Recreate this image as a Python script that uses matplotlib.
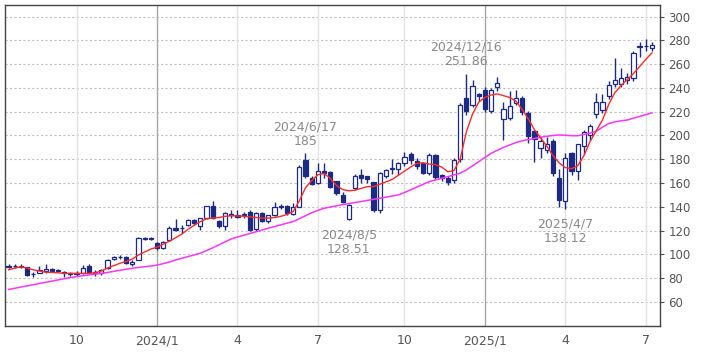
import matplotlib.pyplot as plt
import pandas as pd

# weekly candles, every Monday
weeks = pd.date_range("2023-07-17", periods=105, freq="W-MON")

opens = [89.7, 89.8, 90.5, 89.0, 83.5, 84.5, 86.0, 87.5, 87.0, 85.5,
         84.0, 83.5, 84.5, 90.0, 85.0, 84.0, 88.5, 96.0, 97.8, 97.5,
         91.5, 95.5, 113.3, 113.3, 109.5, 105.5, 112.0, 122.5, 121.8, 124.8,
         129.0, 123.7, 130.5, 141.0, 127.7, 123.5, 133.0, 133.5, 133.0, 136.0,
         121.0, 135.0, 128.0, 133.0, 139.8, 140.8, 134.0, 140.2, 179.5, 164.0,
         160.0, 169.8, 169.7, 161.3, 150.0, 130.0, 156.0, 166.5, 165.5, 160.5,
         137.5, 165.5, 172.0, 172.0, 176.5, 184.0, 178.5, 176.5, 168.3, 183.5,
         166.5, 164.5, 162.5, 180.0, 231.5, 226.0, 234.5, 238.0, 220.5, 241.0,
         213.5, 215.0, 227.5, 231.5, 219.0, 203.5, 189.5, 187.5, 195.0, 164.0,
         144.5, 185.0, 170.0, 191.0, 200.5, 218.0, 221.5, 233.0, 243.0, 243.0,
         247.0, 248.5, 274.5, 275.0, 273.8]
highs = [91.5, 92.0, 92.0, 89.5, 85.0, 90.0, 91.5, 88.5, 88.0, 86.0,
         85.0, 86.0, 91.0, 91.5, 86.5, 88.0, 96.0, 99.0, 99.5, 98.5,
         95.0, 115.0, 115.0, 114.5, 110.0, 111.0, 124.0, 130.0, 125.0, 130.0,
         130.0, 131.0, 141.0, 144.5, 128.5, 135.5, 137.5, 137.5, 136.0, 137.0,
         135.5, 136.0, 133.5, 144.4, 142.0, 141.5, 143.0, 175.0, 185.0, 165.5,
         176.7, 176.7, 170.5, 162.0, 152.8, 142.5, 168.0, 172.0, 166.0, 161.0,
         169.5, 172.0, 180.0, 178.0, 186.5, 186.0, 181.0, 178.0, 185.0, 184.5,
         168.0, 166.0, 181.0, 227.5, 251.86, 247.0, 236.0, 241.0, 240.0, 249.0,
         228.0, 237.0, 238.5, 233.0, 221.0, 205.0, 199.0, 199.0, 197.0, 172.0,
         185.0, 186.0, 193.0, 205.0, 210.0, 235.5, 235.0, 246.0, 265.0, 257.0,
         252.5, 271.0, 279.0, 281.0, 278.5]
lows = [88.5, 88.5, 88.5, 82.0, 81.0, 84.0, 84.5, 85.0, 85.0, 81.0,
        81.5, 82.0, 83.5, 84.0, 82.0, 83.0, 88.0, 95.0, 96.5, 91.5,
        90.5, 95.0, 112.0, 112.5, 104.0, 104.5, 111.0, 120.0, 118.0, 123.5,
        125.0, 120.6, 129.5, 130.0, 122.5, 120.6, 131.0, 130.5, 131.0, 120.0,
        119.5, 127.0, 126.0, 132.0, 138.0, 133.5, 133.0, 139.5, 164.0, 158.0,
        159.0, 164.0, 155.6, 150.0, 143.0, 128.51, 154.0, 160.0, 160.0, 135.5,
        135.0, 164.0, 168.0, 167.0, 174.0, 176.0, 172.0, 167.5, 167.0, 163.0,
        162.0, 158.5, 160.0, 178.0, 217.0, 224.0, 229.0, 220.0, 219.0, 237.0,
        196.0, 213.0, 226.0, 217.0, 193.5, 178.0, 181.0, 185.0, 165.5, 139.5,
        138.12, 167.0, 162.7, 184.0, 196.0, 215.0, 219.0, 231.0, 241.0, 240.5,
        243.0, 246.0, 266.0, 271.0, 271.0]
closes = [90.2, 90.3, 89.5, 83.0, 83.2, 86.5, 87.5, 86.0, 86.0, 84.0,
          83.5, 84.5, 88.5, 85.5, 84.0, 87.0, 95.5, 98.0, 98.2, 92.5,
          94.0, 113.5, 113.7, 113.7, 105.5, 110.5, 122.0, 120.7, 122.2, 129.0,
          126.3, 130.5, 140.5, 131.0, 123.5, 134.7, 133.6, 131.5, 133.6, 120.6,
          134.7, 128.0, 133.0, 140.0, 140.4, 134.6, 140.2, 173.9, 165.5, 159.3,
          170.5, 168.3, 157.0, 151.4, 144.0, 141.6, 165.5, 164.5, 163.0, 137.0,
          168.5, 171.0, 173.0, 176.5, 181.5, 179.5, 174.0, 168.3, 183.8, 165.0,
          164.5, 161.0, 179.5, 225.5, 220.5, 242.0, 233.0, 222.5, 238.5, 244.0,
          222.0, 225.0, 231.5, 219.5, 199.5, 197.0, 195.5, 193.0, 168.5, 146.0,
          181.0, 170.0, 192.5, 203.0, 208.0, 228.5, 228.5, 242.5, 246.5, 248.0,
          249.5, 269.5, 275.3, 275.5, 276.0]

# moving averages
ma_short = [87.0, 88.5, 89.5, 88.5, 87.0, 86.0, 85.0, 84.8, 84.5, 84.0,
            84.0, 84.0, 84.0, 84.0, 84.5, 86.0, 88.5, 90.5, 92.5, 94.0,
            96.0, 99.5, 102.0, 104.5, 106.0, 108.5, 111.0, 114.0, 117.0, 121.0,
            124.5, 127.5, 130.0, 130.5, 131.0, 132.0, 132.5, 132.3, 132.0, 131.5,
            131.0, 130.5, 130.5, 131.0, 132.0, 133.5, 136.0, 145.0, 156.0, 162.0,
            167.0, 168.0, 164.0, 158.0, 154.5, 153.5, 154.0, 155.5, 157.0, 157.0,
            159.0, 161.0, 163.0, 166.5, 170.0, 173.5, 176.5, 177.0, 176.0, 175.5,
            173.5, 169.5, 170.5, 180.0, 203.0, 218.0, 228.0, 232.0, 234.0, 235.0,
            233.5, 232.0, 229.0, 222.0, 214.0, 205.0, 198.0, 191.0, 183.0, 177.0,
            173.0, 172.0, 174.5, 183.0, 195.0, 204.0, 213.0, 226.0, 236.0, 242.0,
            247.0, 252.0, 258.0, 264.0, 269.5]
ma_long = [70.5, 71.5, 72.5, 73.5, 74.5, 75.5, 76.5, 77.5, 78.5, 79.5,
           80.5, 81.3, 82.0, 82.7, 83.4, 84.0, 84.8, 85.7, 86.6, 87.5,
           88.3, 89.0, 89.6, 90.2, 91.0, 92.2, 93.6, 95.3, 96.7, 98.1,
           99.5, 101.0, 103.2, 105.5, 108.0, 110.5, 113.0, 114.6, 116.0, 117.5,
           119.0, 120.5, 122.0, 123.4, 124.8, 126.2, 127.6, 130.0, 132.5, 135.0,
           137.0, 138.8, 139.8, 140.8, 141.8, 142.7, 143.6, 144.5, 145.4, 146.3,
           147.2, 148.1, 149.0, 150.0, 152.0, 154.3, 156.6, 158.9, 161.2, 162.6,
           164.0, 165.4, 166.8, 168.3, 171.0, 174.5, 178.0, 181.5, 185.0, 187.5,
           190.0, 192.0, 194.0, 195.5, 196.5, 197.5, 198.5, 199.3, 200.0, 200.4,
           200.2, 199.8, 199.8, 200.8, 202.0, 203.5, 207.0, 210.0, 211.5, 212.3,
           213.0, 214.5, 216.0, 217.5, 219.0]

tick_weeks = ["2023-10-02", "2024-01-01", "2024-04-01", "2024-07-01",
              "2024-10-07", "2025-01-06", "2025-04-07", "2025-07-07"]
tick_labels = ["10", "2024/1", "4", "7", "10", "2025/1", "4", "7"]

# (week, top/bottom, text)
notes = [("2024-06-17", "high", "2024/6/17\n185"),
         ("2024-08-05", "low", "2024/8/5\n128.51"),
         ("2024-12-16", "high", "2024/12/16\n251.86"),
         ("2025-04-07", "low", "2025/4/7\n138.12")]

navy = "#1c2a84"

fig = plt.figure(figsize=(7.09, 3.54), dpi=100)
ax = fig.add_axes([5 / 709, 28.3 / 354, 655 / 709, 321 / 354])

x = list(range(len(weeks)))
pos = {d: i for i, d in enumerate(weeks.strftime("%Y-%m-%d"))}

# grid
for v in range(60, 301, 20):
    ax.axhline(v, color="#c0c0c0", lw=0.8, ls=(0, (2, 2)), zorder=0)
for d, lab in zip(tick_weeks, tick_labels):
    c = "#a8a8a8" if "/" in lab else "#e2e2e2"
    ax.axvline(pos[d], color=c, lw=1.0, zorder=0)

# candles
for i in x:
    o, h, l, c = opens[i], highs[i], lows[i], closes[i]
    ax.vlines(i, l, h, color=navy, lw=1.0, zorder=2)
    bottom = min(o, c)
    height = max(abs(c - o), 0.3)
    face = "white" if c >= o else navy
    ax.bar(i, height, bottom=bottom, width=0.68, facecolor=face,
           edgecolor=navy, linewidth=0.9, zorder=3)

ax.plot(x, ma_long, color="#ff33ff", lw=1.1, zorder=4)
ax.plot(x, ma_short, color="#ff2a2a", lw=1.0, zorder=4)

for d, side, txt in notes:
    i = pos[d]
    if side == "high":
        ax.annotate(txt, (i, highs[i]), xytext=(0, 4), textcoords="offset points",
                    ha="center", va="bottom", fontsize=9, color="#8a8a8a",
                    linespacing=1.15)
    else:
        ax.annotate(txt, (i, lows[i]), xytext=(0, -6), textcoords="offset points",
                    ha="center", va="top", fontsize=9, color="#8a8a8a",
                    linespacing=1.15)

ax.set_xlim(-0.57, 105.3)
ax.set_ylim(40, 310)
ax.set_xticks([pos[d] for d in tick_weeks])
ax.set_xticklabels(tick_labels)
ax.set_yticks(range(60, 301, 20))
ax.yaxis.tick_right()
ax.tick_params(axis="y", length=3, pad=3, labelsize=8.5, colors="#555555")
ax.tick_params(axis="x", length=0, pad=6, labelsize=9, labelcolor="#555555")
for s in ax.spines.values():
    s.set_color("#444444")
    s.set_linewidth(1.0)

fig.savefig("out.png", dpi=100)
